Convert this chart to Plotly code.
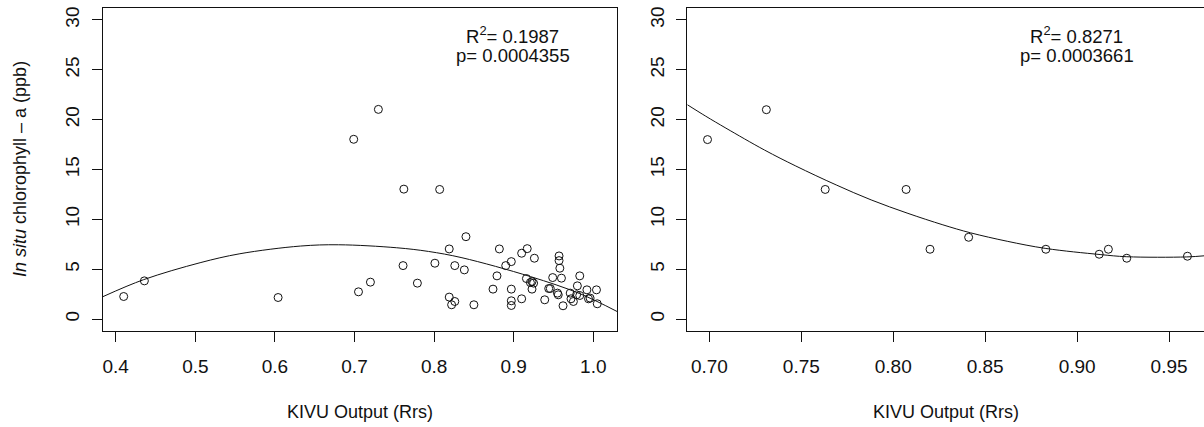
import plotly.graph_objects as go

# ---------------- data ----------------
left_x = [0.410, 0.436, 0.604, 0.705, 0.699, 0.720, 0.730, 0.761, 0.762, 0.779,
          0.801, 0.807, 0.819, 0.819, 0.822, 0.826, 0.826, 0.838, 0.840, 0.850,
          0.874, 0.879, 0.882, 0.890, 0.897, 0.897, 0.897, 0.897, 0.910, 0.910,
          0.916, 0.917, 0.921, 0.923, 0.923, 0.925, 0.926, 0.939, 0.944, 0.946,
          0.949, 0.955, 0.956, 0.957, 0.957, 0.958, 0.960, 0.962, 0.971, 0.972,
          0.975, 0.979, 0.980, 0.983, 0.983, 0.994, 0.996, 0.992, 1.004, 1.005]
left_y = [2.26, 3.83, 2.16, 2.73, 18.03, 3.70, 21.03, 5.36, 13.03, 3.60,
          5.60, 13.00, 7.03, 2.20, 1.43, 5.36, 1.76, 4.93, 8.26, 1.43,
          3.00, 4.33, 7.03, 5.36, 5.76, 3.00, 1.83, 1.36, 6.60, 2.03,
          4.06, 7.06, 3.66, 3.76, 3.00, 3.60, 6.10, 1.93, 3.06, 3.06,
          4.16, 2.60, 2.43, 5.86, 6.33, 5.10, 4.10, 1.33, 2.60, 2.03,
          1.76, 2.43, 3.33, 4.33, 2.36, 2.03, 2.10, 2.93, 2.93, 1.53]

left_fit_x = [0.384, 0.435, 0.506, 0.556, 0.632, 0.680, 0.753, 0.793,
              0.835, 0.921, 0.983, 1.0298]
left_fit_y = [2.25, 3.95, 5.65, 6.55, 7.32, 7.45, 7.15, 6.78,
              6.15, 4.26, 2.55, 0.76]

right_x = [0.699, 0.731, 0.763, 0.807, 0.820, 0.841, 0.883, 0.912, 0.917, 0.927, 0.960]
right_y = [18.0, 21.0, 13.0, 13.0, 7.0, 8.2, 7.0, 6.5, 7.0, 6.1, 6.3]

right_fit_x = [0.688, 0.698, 0.709, 0.730, 0.747, 0.769, 0.788, 0.808, 0.827,
               0.842, 0.862, 0.883, 0.9125, 0.927, 0.9596, 0.9696]
right_fit_y = [21.5, 20.35, 19.15, 16.95, 15.35, 13.45, 11.95, 10.6, 9.45,
               8.65, 7.8, 7.08, 6.47, 6.25, 6.23, 6.35]

left_xticks = [0.4, 0.5, 0.6, 0.7, 0.8, 0.9, 1.0]
left_xtick_text = ["0.4", "0.5", "0.6", "0.7", "0.8", "0.9", "1.0"]
right_xticks = [0.70, 0.75, 0.80, 0.85, 0.90, 0.95]
right_xtick_text = ["0.70", "0.75", "0.80", "0.85", "0.90", "0.95"]
yticks = [0, 5, 10, 15, 20, 25, 30]

left_stats = ["R<sup>2</sup>= 0.1987", "p= 0.0004355"]
right_stats = ["R<sup>2</sup>= 0.8271", "p= 0.0003661"]
x_title = "KIVU Output (Rrs)"
y_title = "<i>In situ</i> chlorophyll \u2013 a (ppb)"

# ---------------- figure ----------------
W, H = 1204, 427
FONT = "Liberation Sans, Arial, sans-serif"
INK = "#111111"

fig = go.Figure()
marker = dict(symbol="circle-open", size=8, color=INK, line=dict(width=1, color=INK))
fig.add_trace(go.Scatter(x=left_x, y=left_y, mode="markers", marker=marker,
                         xaxis="x", yaxis="y", showlegend=False))
fig.add_trace(go.Scatter(x=left_fit_x, y=left_fit_y, mode="lines",
                         line=dict(color=INK, width=1, shape="spline"),
                         xaxis="x", yaxis="y", showlegend=False))
fig.add_trace(go.Scatter(x=right_x, y=right_y, mode="markers", marker=marker,
                         xaxis="x2", yaxis="y2", showlegend=False))
fig.add_trace(go.Scatter(x=right_fit_x, y=right_fit_y, mode="lines",
                         line=dict(color=INK, width=1, shape="spline"),
                         xaxis="x2", yaxis="y2", showlegend=False))

def px_x(p):
    return p / W

def px_y(p):
    return 1 - p / H

ydom = [px_y(331), px_y(8)]
common_axis = dict(showline=True, linecolor=INK, linewidth=1, ticks="outside",
                   ticklen=10, tickcolor=INK, tickwidth=1, showgrid=False,
                   zeroline=False, automargin=False,
                   tickfont=dict(family=FONT, size=19, color=INK))

fig.update_layout(
    width=W, height=H,
    margin=dict(l=0, r=0, t=0, b=0),
    paper_bgcolor="white", plot_bgcolor="white",
    xaxis=dict(common_axis, domain=[px_x(103), px_x(617)], range=[0.384, 1.0298],
               tickvals=left_xticks, ticktext=left_xtick_text, mirror=True,
               anchor="y", ticklabelstandoff=8),
    yaxis=dict(common_axis, domain=ydom, range=[-1.2, 31.2], tickvals=yticks,
               mirror=True, anchor="x", tickangle=-90, ticklabelstandoff=5),
    xaxis2=dict(common_axis, domain=[px_x(687.3), 1.0], range=[0.688, 0.9690],
                tickvals=right_xticks, ticktext=right_xtick_text, mirror=True,
                anchor="y2", ticklabelstandoff=8),
    yaxis2=dict(common_axis, domain=ydom, range=[-1.2, 31.2], tickvals=yticks,
                mirror=False, anchor="x2", tickangle=-90, ticklabelstandoff=5),
)

annots = []
for cx, lines in ((512.5, left_stats), (1076.5, right_stats)):
    for cy, t in zip((35, 55), lines):
        annots.append(dict(x=px_x(cx), y=px_y(cy), xref="paper", yref="paper",
                           text=t, showarrow=False, xanchor="center", yanchor="middle",
                           font=dict(family=FONT, size=18.5, color=INK)))
for cx in (360, 946):
    annots.append(dict(x=px_x(cx), y=px_y(412), xref="paper", yref="paper",
                       text=x_title, showarrow=False, xanchor="center", yanchor="middle",
                       font=dict(family=FONT, size=18, color=INK)))
annots.append(dict(x=px_x(20), y=px_y(169), xref="paper", yref="paper",
                   text=y_title, showarrow=False, textangle=-90,
                   xanchor="center", yanchor="middle",
                   font=dict(family=FONT, size=18, color=INK)))
fig.update_layout(annotations=annots)

# remove the page's default 8px body margin so the figure sits at the page origin
fig.write_html("out.html", config={"displayModeBar": False},
               post_script="document.body.style.margin='0px';")
